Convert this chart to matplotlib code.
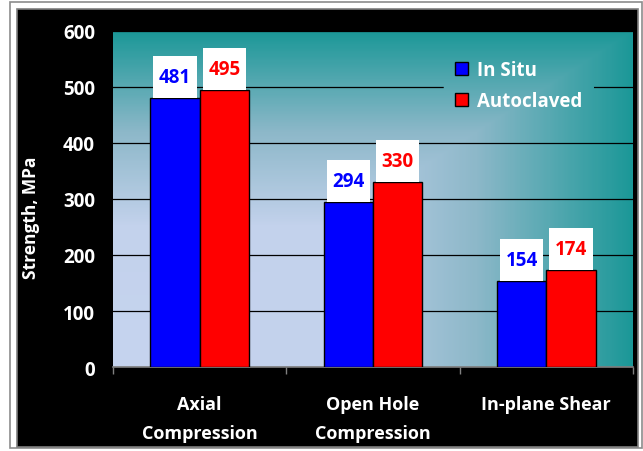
import numpy as np
import matplotlib.pyplot as plt
from matplotlib.patches import Rectangle
from matplotlib.colors import LinearSegmentedColormap

plt.rcParams['font.family'] = ['Open Sans', 'DejaVu Sans']
plt.rcParams['font.weight'] = 'bold'

# Données
categories = ["Axial\nCompression", "Open Hole\nCompression", "In-plane Shear"]
in_situ = [481, 294, 154]
autoclaved = [495, 330, 174]
series_names = ["In Situ", "Autoclaved"]
series_colors = ["#0000FF", "#FF0000"]
y_ticks = [0, 100, 200, 300, 400, 500, 600]

W, H = 643, 452
fig = plt.figure(figsize=(W / 100, H / 100), dpi=100)
fig.patch.set_facecolor("white")

# cadre extérieur gris + fond noir
fig.patches.append(Rectangle((10 / W, 1 - 449 / H), 632 / W, 446 / H, transform=fig.transFigure,
                             facecolor="white", edgecolor="#8C8C8C", lw=1.2, zorder=-2))
fig.patches.append(Rectangle((17 / W, 1 - 448 / H), 621 / W, 438 / H, transform=fig.transFigure,
                             facecolor="black", edgecolor="#7F7F7F", lw=1.2, zorder=-1))

ax = fig.add_axes([113 / W, 1 - 368 / H, 520 / W, 336 / H])
ax.set_facecolor("none")

# dégradé "depuis le coin" (clair en bas à gauche, sarcelle sur les bords)
n = 300
u, v = np.meshgrid(np.linspace(0, 1, n), np.linspace(1, 0, n))
t = np.maximum(u, v)
cmap = LinearSegmentedColormap.from_list(
    "bg", [(0, "#C6D4EF"), (0.42, "#C3D2EC"), (0.7, "#8DB8C9"), (1, "#1C9898")])
bg = ax.imshow(t, cmap=cmap, vmin=0, vmax=1, extent=[0, 1, 0, 1], transform=ax.transAxes,
               aspect="auto", zorder=0)

x = np.arange(len(categories))
w = 0.285
for vals, off, col in [(in_situ, -w / 2, series_colors[0]), (autoclaved, w / 2, series_colors[1])]:
    ax.bar(x + off, vals, width=w, color=col, edgecolor="black", linewidth=1, zorder=3)
    for xi, val in zip(x + off, vals):
        ax.add_patch(Rectangle((xi - 0.125, val), 0.25, 75, facecolor="white", edgecolor="none", zorder=3))
        ax.text(xi, val + 37.5, str(val), ha="center", va="center", color=col,
                fontsize=13.5, fontweight="bold", zorder=4)

ax.set_xlim(-0.5, len(categories) - 0.5)
ax.set_ylim(0, 600)
ax.set_yticks(y_ticks)
ax.yaxis.grid(True, color="black", linewidth=0.9, zorder=1)
ax.set_axisbelow(True)
ax.tick_params(axis="y", length=0, pad=13, labelsize=13.5, labelcolor="white")
ax.set_xticks(x)
ax.set_xticklabels(categories, color="white", fontsize=13, linespacing=1.8)
ax.tick_params(axis="x", length=0, pad=20)
ax.set_xticks(np.arange(len(categories) + 1) - 0.5, minor=True)
ax.tick_params(axis="x", which="minor", length=5, color="#808080", width=1)
for s in ["left", "right", "top"]:
    ax.spines[s].set_visible(False)
ax.spines["bottom"].set_color("#808080")
ax.spines["bottom"].set_linewidth(1.2)

ax.set_ylabel("Strength, MPa", color="white", fontsize=12.5, fontweight="bold")
ax.yaxis.set_label_coords(-73 / 520, 0.448)

handles = [Rectangle((0, 0), 1, 1, facecolor=c, edgecolor="black", lw=1) for c in series_colors]
leg = ax.legend(handles, series_names, loc="upper left", bbox_to_anchor=(0.618, 0.975),
                frameon=True, fontsize=13.5, handlelength=0.7, handleheight=0.7,
                handletextpad=0.5, labelspacing=0.6, borderpad=0.6)
leg.get_frame().set_facecolor("none")
leg.get_frame().set_edgecolor("none")
for txt in leg.get_texts():
    txt.set_color("white")

# le cadre de la légende masque la grille : on recopie le dégradé dessus
fig.canvas.draw()
bg2 = ax.imshow(t, cmap=cmap, vmin=0, vmax=1, extent=[0, 1, 0, 1], transform=ax.transAxes,
                aspect="auto", zorder=2)
bg2.set_clip_path(leg.get_frame())

fig.savefig("out.png", dpi=100)
